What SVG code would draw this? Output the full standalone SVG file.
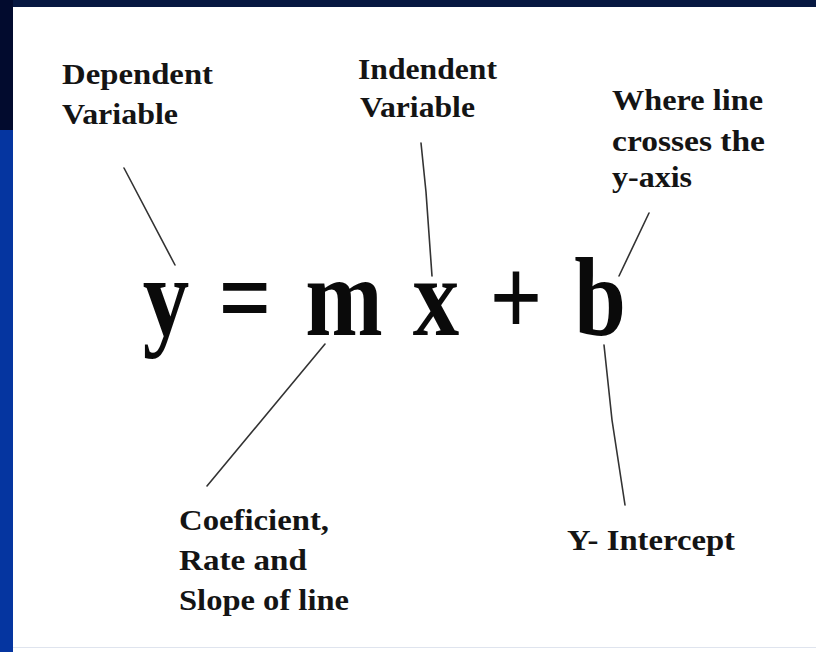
<svg xmlns="http://www.w3.org/2000/svg" width="816" height="652" viewBox="0 0 816 652">
<style>
.lbl{font-family:"Liberation Serif","Times New Roman",serif;font-weight:bold;font-size:29px;fill:#141414}
.eq{font-family:"Liberation Serif","Times New Roman",serif;font-weight:bold;font-size:112px;fill:#0a0a0a;text-anchor:middle}
.conn line,.conn polyline{stroke:#333;stroke-width:1.6;fill:none;stroke-linecap:round}
</style>
<rect x="0" y="0" width="816" height="652" fill="#ffffff"/>
<rect x="0" y="0" width="816" height="7" fill="#071841"/>
<rect x="0" y="0" width="13" height="130" fill="#020b2e"/>
<rect x="0" y="130" width="13" height="522" fill="#0535a0"/>
<rect x="13" y="647" width="803" height="1" fill="#dfe4ee"/>
<g id="equation">
<g transform="translate(166,335) scale(0.83,1)"><text class="eq" x="0" y="0">y</text></g>
<g transform="translate(245,335) scale(0.83,1)"><text class="eq" x="0" y="0">=</text></g>
<g transform="translate(344,335) scale(0.83,1)"><text class="eq" x="0" y="0">m</text></g>
<g transform="translate(436,335) scale(0.83,1)"><text class="eq" x="0" y="0">x</text></g>
<g transform="translate(516,335) scale(0.83,1)"><text class="eq" x="0" y="0">+</text></g>
<g transform="translate(600,335) scale(0.83,1)"><text class="eq" x="0" y="0">b</text></g>
</g>
<g id="dependent">
<text class="lbl" x="62" y="84" textLength="151" lengthAdjust="spacingAndGlyphs">Dependent</text>
<text class="lbl" x="62" y="124" textLength="116" lengthAdjust="spacingAndGlyphs">Variable</text>
</g>
<g id="independent">
<text class="lbl" x="358" y="79" textLength="139" lengthAdjust="spacingAndGlyphs">Indendent</text>
<text class="lbl" x="360" y="117" textLength="115" lengthAdjust="spacingAndGlyphs">Variable</text>
</g>
<g id="crosses">
<text class="lbl" x="612" y="110" textLength="151" lengthAdjust="spacingAndGlyphs">Where line</text>
<text class="lbl" x="612" y="151" textLength="153" lengthAdjust="spacingAndGlyphs">crosses the</text>
<text class="lbl" x="612" y="187" textLength="80" lengthAdjust="spacingAndGlyphs">y-axis</text>
</g>
<g id="coefficient">
<text class="lbl" x="179" y="530" textLength="150" lengthAdjust="spacingAndGlyphs">Coeficient,</text>
<text class="lbl" x="179" y="570" textLength="128" lengthAdjust="spacingAndGlyphs">Rate and</text>
<text class="lbl" x="179" y="610" textLength="170" lengthAdjust="spacingAndGlyphs">Slope of line</text>
</g>
<g id="intercept">
<text class="lbl" x="567" y="550" textLength="168" lengthAdjust="spacingAndGlyphs">Y- Intercept</text>
</g>
<g class="conn" id="connectors">
<line x1="124" y1="168" x2="175" y2="265"/>
<polyline points="421,143 426,192 432,276"/>
<line x1="649" y1="213" x2="619" y2="276"/>
<line x1="325" y1="344" x2="207" y2="486"/>
<polyline points="604,345 612,420 625,505"/>
</g>
</svg>
